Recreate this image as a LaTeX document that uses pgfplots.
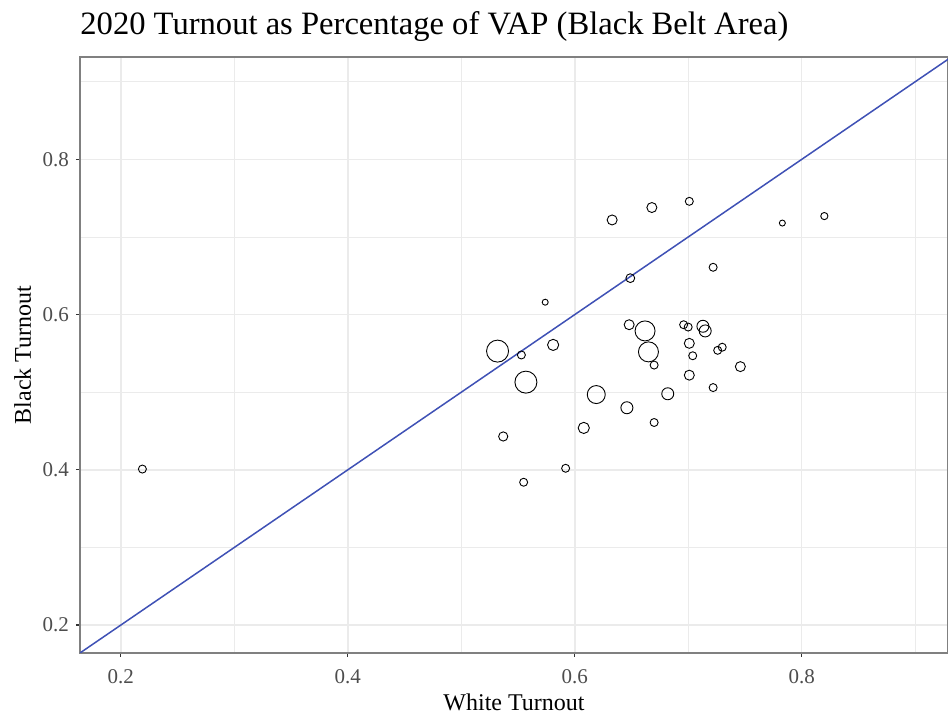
\documentclass[border=0pt]{standalone}
\usepackage{pgfplots}
\pgfplotsset{compat=1.18}
\usepackage{fontspec}
\setmainfont{Liberation Serif}
\definecolor{gridc}{HTML}{EBEBEB}
\definecolor{linec}{HTML}{3F51B5}
\definecolor{tickc}{HTML}{4D4D4D}
\definecolor{framec}{HTML}{808080}
\begin{document}
\begin{tikzpicture}
\begin{axis}[
  scale only axis, width=434pt, height=298pt,
  xmin=0.164, xmax=0.929, ymin=0.164, ymax=0.932,
  xtick={0.2,0.4,0.6,0.8}, ytick={0.2,0.4,0.6,0.8},
  minor xtick={0.3,0.5,0.7,0.9}, minor ytick={0.3,0.5,0.7,0.9},
  xticklabels={0.2,0.4,0.6,0.8}, yticklabels={0.2,0.4,0.6,0.8},
  grid=both,
  major grid style={gridc, line width=0.8pt},
  minor grid style={gridc, line width=0.4pt},
  axis line style={framec, line width=0.6pt},
  major tick style={black!80, line width=0.6pt},
  tick align=outside, major tick length=2pt,
  minor tick length=0pt,
  xtick pos=bottom, ytick pos=left,
  ticklabel style={font=\fontsize{10.5}{12}\selectfont, text=tickc},
  xticklabel style={yshift=-2.5pt},
  xlabel={White Turnout}, ylabel={Black Turnout},
  label style={font=\fontsize{12}{14}\selectfont},
  xlabel style={at={(axis description cs:0.5,0)}, anchor=base, yshift=-29pt},
  ylabel style={at={(axis description cs:0,0.5)}, anchor=base, yshift=24.5pt},
  title={2020 Turnout as Percentage of VAP (Black Belt Area)},
  title style={font=\fontsize{16.3}{18}\selectfont, anchor=base west, at={(axis description cs:0,1)}, yshift=5pt, inner xsep=0pt},
  clip=true,
]
\coordinate (SW) at (rel axis cs:0,0);
\coordinate (NE) at (rel axis cs:1,1);
\addplot[linec, line width=0.75pt] coordinates {(0.1,0.1) (1,1)};
\addplot[scatter, only marks, mark=o, line width=0.45pt,
  scatter/use mapped color={draw=black},
  visualization depends on={\thisrow{r}\as\rad},
  scatter/@pre marker code/.append style={/tikz/mark size=\rad pt}]
table {
x y r
0.219 0.401 2.0
0.532 0.553 5.5
0.553 0.548 2.0
0.557 0.513 5.5
0.581 0.561 2.8
0.574 0.616 1.5
0.537 0.443 2.3
0.555 0.384 2.0
0.592 0.402 2.0
0.608 0.454 2.8
0.619 0.497 4.5
0.646 0.480 3.0
0.633 0.722 2.5
0.668 0.738 2.5
0.701 0.746 2.0
0.783 0.718 1.5
0.820 0.727 1.8
0.649 0.647 2.2
0.722 0.661 2.0
0.648 0.587 2.5
0.662 0.579 5.0
0.665 0.552 5.0
0.670 0.535 2.0
0.696 0.587 2.0
0.700 0.584 2.0
0.713 0.585 3.0
0.715 0.579 3.0
0.701 0.563 2.5
0.704 0.547 2.0
0.726 0.554 2.0
0.730 0.558 2.0
0.746 0.533 2.5
0.701 0.522 2.5
0.722 0.506 2.0
0.682 0.498 3.0
0.670 0.461 2.0
};
\end{axis}
\pgfresetboundingbox
\path ([xshift=-40pt,yshift=-32.5pt]SW) rectangle ([yshift=28.5pt]NE);
\end{tikzpicture}
\end{document}
